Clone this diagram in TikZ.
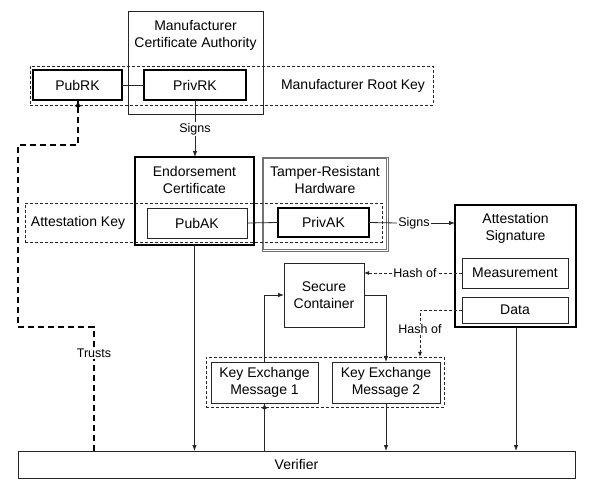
\documentclass[tikz,border=0pt]{standalone}
\usepackage{fontspec}
\setmainfont{Liberation Sans}
\usetikzlibrary{arrows.meta}
\begin{document}
\begin{tikzpicture}[x=1pt,y=-1pt,
  font=\fontsize{14pt}{17pt}\selectfont,
  ln/.style={draw=black!85,line width=0.8pt},
  box/.style={ln,rectangle,inner sep=0pt,outer sep=0pt,align=center},
  thickbox/.style={box,line width=2.3pt,draw=black},
  graybox/.style={box,draw=black!55,line width=0.8pt},
  dbox/.style={box,dash pattern=on 3pt off 2pt},
  txt/.style={inner sep=0pt,align=center},
  lbl/.style={inner sep=1pt,font=\fontsize{12.5pt}{15pt}\selectfont},
  arr/.style={ln,-{Latex[length=6pt,width=4.5pt]}},
  darr/.style={ln,dash pattern=on 3pt off 2pt,-{Latex[length=5pt,width=4pt]}},
  trust/.style={draw=black,line width=1.6pt,dash pattern=on 6pt off 4pt}
]
\useasboundingbox (0,0) rectangle (600,494);

% Manufacturer CA
\node[box,minimum width=135pt,minimum height=103pt] (mca) at (195.5,62.5) {};
\node[txt] (mcat) at (195.5,35) {Manufacturer\\Certificate Authority};
% Manufacturer Root Key group
\node[dbox,minimum width=403pt,minimum height=39pt] (mrk) at (231.5,85.5) {};
\node[txt] (mrkt) at (353,86) {Manufacturer Root Key};
\node[thickbox,fill=white,minimum width=89pt,minimum height=30pt] (pubrk) at (77.5,85) {PubRK};
\node[thickbox,fill=white,minimum width=102pt,minimum height=30pt] (privrk) at (195,85) {PrivRK};
\draw[ln] (pubrk.east) -- (privrk.west);

% Endorsement certificate
\node[thickbox,minimum width=119pt,minimum height=88pt] (ec) at (194.5,201) {};
\node[txt] (ect) at (194.5,180) {Endorsement\\Certificate};
% Tamper-resistant hardware (double gray frame)
\node[graybox,minimum width=126pt,minimum height=94pt] (trh) at (325,204) {};
\node[graybox,minimum width=122.5pt,minimum height=90.5pt] (trhi) at (325,204) {};
\node[txt] (trht) at (325,180) {Tamper-Resistant\\Hardware};
% Attestation key group
\node[dbox,minimum width=357pt,minimum height=39pt] (ak) at (203.5,222.5) {};
\node[txt] (akt) at (78,223) {Attestation Key};
\node[box,fill=white,minimum width=100pt,minimum height=30pt] (pubak) at (197,223) {PubAK};
\node[thickbox,fill=white,minimum width=91pt,minimum height=29pt] (privak) at (323.5,222.5) {PrivAK};
\draw[ln] (pubak.east) -- (privak.west);

% Attestation signature
\node[thickbox,minimum width=121pt,minimum height=122pt] (as) at (515.5,266) {};
\node[txt] (ast) at (515.5,228.5) {Attestation\\Signature};
\node[box,minimum width=106pt,minimum height=30pt] (meas) at (515,273) {Measurement};
\node[box,minimum width=106pt,minimum height=26pt] (data) at (515,310) {Data};

% Secure container
\node[box,minimum width=80pt,minimum height=64pt] (sc) at (324,295) {Secure\\Container};

% Key exchange group
\node[dbox,minimum width=238pt,minimum height=50pt] (ke) at (325,382) {};
\node[box,minimum width=107pt,minimum height=41pt] (kem1) at (264.5,382.5) {Key Exchange\\Message 1};
\node[box,minimum width=108pt,minimum height=41pt] (kem2) at (386,382.5) {Key Exchange\\Message 2};

% Verifier
\node[box,minimum width=557pt,minimum height=27pt] (ver) at (296.5,464.5) {Verifier};

% Labels
\node[lbl] (s1) at (195,129) {Signs};
\node[lbl] (s2) at (414,223) {Signs};
\node[lbl] (h1) at (415,273) {Hash of};
\node[lbl] (h2) at (420,329) {Hash of};
\node[lbl] (tr) at (94,353) {Trusts};

% Connectors
\draw[ln] (privrk.south) -- (s1.north);
\draw[arr] (s1.south) -- (s1.south |- ec.north);
\draw[ln] (privak.east) -- (s2.west);
\draw[arr] (s2.east) -- (s2.east -| as.west);
\draw[ln,dash pattern=on 3pt off 2pt] (meas.west) -- (h1.east);
\draw[darr] (h1.west) -- (h1.west -| sc.east);
\coordinate (dc) at (420,310);
\draw[ln,dash pattern=on 3pt off 2pt] (data.west) -- (dc) -- (h2.north);
\draw[darr] (h2.south) -- (h2.south |- ke.north);
\draw[arr] (kem1.north) |- (sc.west);
\draw[arr] (sc.east) -| (kem2.north);
\draw[arr] (kem1.south |- ver.north) -- (kem1.south);
\draw[arr] (kem2.south) -- (kem2.south |- ver.north);
\draw[arr] (ec.south) -- (ec.south |- ver.north);
\draw[arr] (as.south -| 516,0) -- (ver.north -| 516,0);
% Trusts
\coordinate (t0) at (94,451);
\coordinate (t1) at (94,327);
\coordinate (t2) at (18,327);
\coordinate (t3) at (18,145);
\coordinate (t4) at (78,145);
\draw[trust] (t0) -- (tr.south);
\draw[trust] (tr.north) -- (t1) -- (t2) -- (t3) -- (t4) -- (t4 |- pubrk.south);
\draw[black,-{Latex[length=7pt,width=5pt]}] (78,112) -- (t4 |- pubrk.south);
\end{tikzpicture}
\end{document}
